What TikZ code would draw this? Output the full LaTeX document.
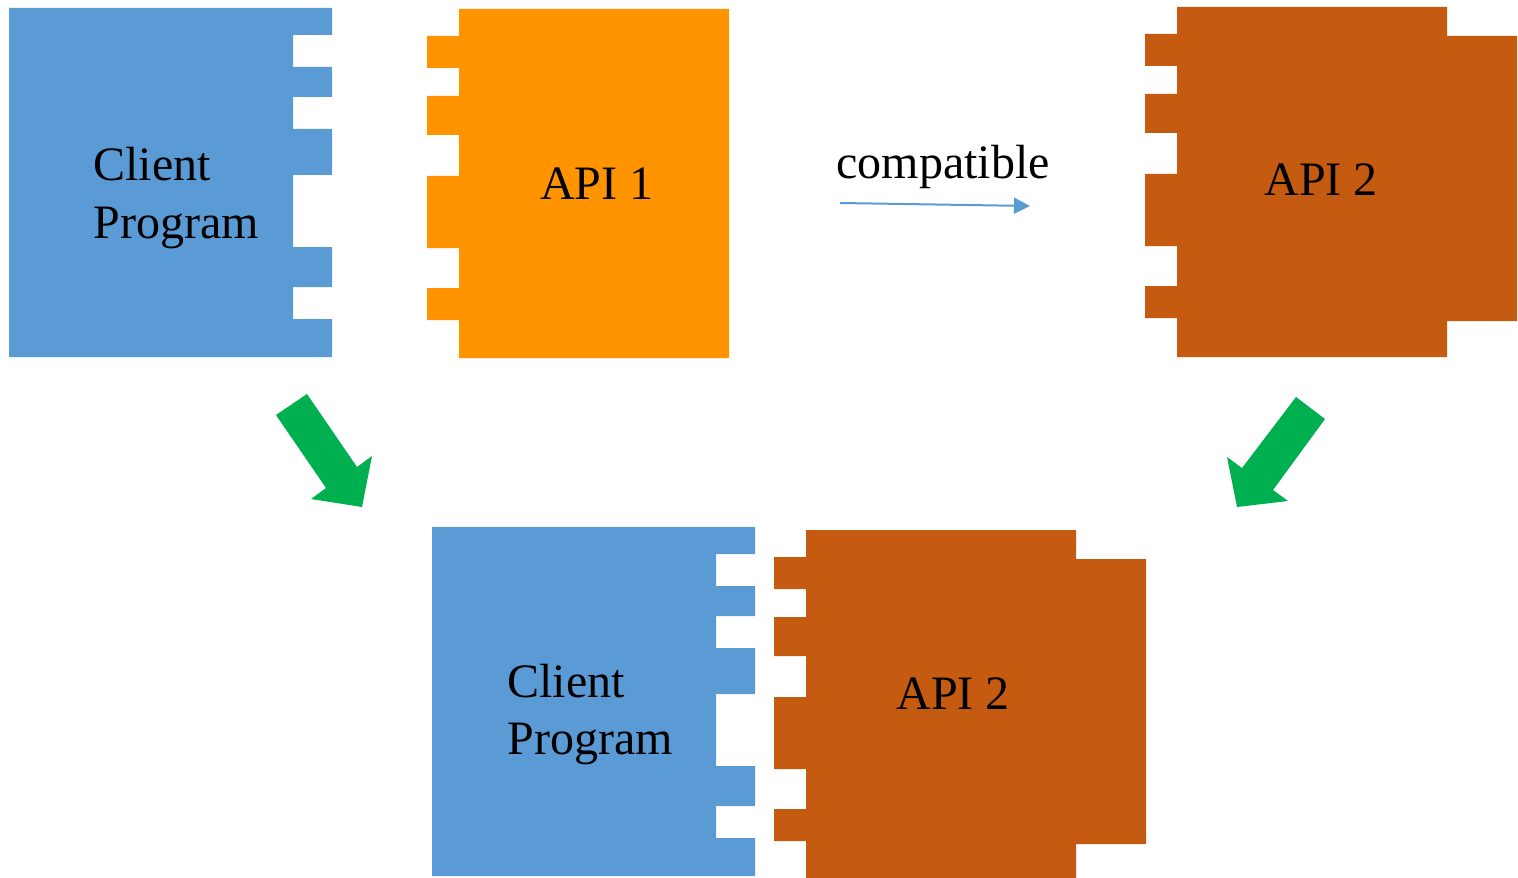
\documentclass[tikz,border=0pt]{standalone}
\usepackage{fontspec}
\setmainfont{Liberation Serif}
\usetikzlibrary{arrows.meta}
\definecolor{cblue}{HTML}{5B9BD5}
\definecolor{corange}{HTML}{FF9300}
\definecolor{cbrown}{HTML}{C55A11}
\definecolor{cgreen}{HTML}{00B050}
\tikzset{
  lbl/.style={font=\fontsize{24}{28.5}\selectfont, inner sep=0pt, anchor=base},
  lbll/.style={font=\fontsize{24}{28.5}\selectfont, inner sep=0pt, anchor=base west},
  bigarrow/.style={fill=cgreen, draw=none},
  connarrow/.style={draw=cblue, line width=1pt, -{Triangle[length=8pt,width=8pt]}}
}
\newcommand{\clientshape}{%
  (9,8) -- (332,8) -- (332,35) -- (293,35) -- (293,67) -- (332,67) -- (332,97) -- (293,97) -- (293,129) -- (332,129) -- (332,175) -- (293,175) -- (293,247) -- (332,247) -- (332,287) -- (293,287) -- (293,319) -- (332,319) -- (332,357) -- (9,357) -- cycle}
\newcommand{\apitwoshape}{%
  (1177,7) -- (1447,7) -- (1447,36) -- (1517,36) -- (1517,321) -- (1447,321) -- (1447,357) -- (1177,357) -- (1177,318) -- (1145,318) -- (1145,286) -- (1177,286) -- (1177,246) -- (1145,246) -- (1145,174) -- (1177,174) -- (1177,133) -- (1145,133) -- (1145,94) -- (1177,94) -- (1177,66) -- (1145,66) -- (1145,34) -- (1177,34) -- cycle}
\begin{document}
\begin{tikzpicture}[x=0.5pt,y=-0.5pt]
\useasboundingbox (0,0) rectangle (1518,877);
% top client
\fill[cblue] \clientshape;
% API 1
\fill[corange] (459,9) -- (729,9) -- (729,358) -- (459,358) -- (459,320) -- (427,320) -- (427,288) -- (459,288) -- (459,248) -- (427,248) -- (427,176) -- (459,176) -- (459,135) -- (427,135) -- (427,96) -- (459,96) -- (459,68) -- (427,68) -- (427,36) -- (459,36) -- cycle;
% top API 2
\fill[cbrown] \apitwoshape;
% bottom client
\begin{scope}[shift={(423,519)}]
\fill[cblue] \clientshape;
\end{scope}
% bottom API 2
\begin{scope}[shift={(-371,523)}]
\fill[cbrown] \apitwoshape;
\end{scope}
% labels
\node[lbll] (client1a) at (93,181) {Client};
\node[lbll] (client1b) at (93,238) {Program};
\node[lbl] (api1) at (597,199) {API 1};
\node[lbl] (api2t) at (1321,196) {API 2};
\node[lbll] (client2a) at (507,697) {Client};
\node[lbll] (client2b) at (507,754) {Program};
\node[lbl] (api2b) at (953,709) {API 2};
\node[lbl] (compat) at (943,179) {compatible};
% compatible arrow
\coordinate (cs) at (840,203);
\coordinate (ce) at (1030,206);
\draw[connarrow] (cs) -- (ce);
% green arrows
\fill[bigarrow] (276,415) -- (307,394) -- (357,467) -- (372,456) -- (362,507) -- (311,499) -- (326,488) -- cycle;
\fill[bigarrow] (1325,419) -- (1296,397) -- (1242,468) -- (1227,457) -- (1237,507) -- (1288,501) -- (1273,490) -- cycle;
\end{tikzpicture}
\end{document}
